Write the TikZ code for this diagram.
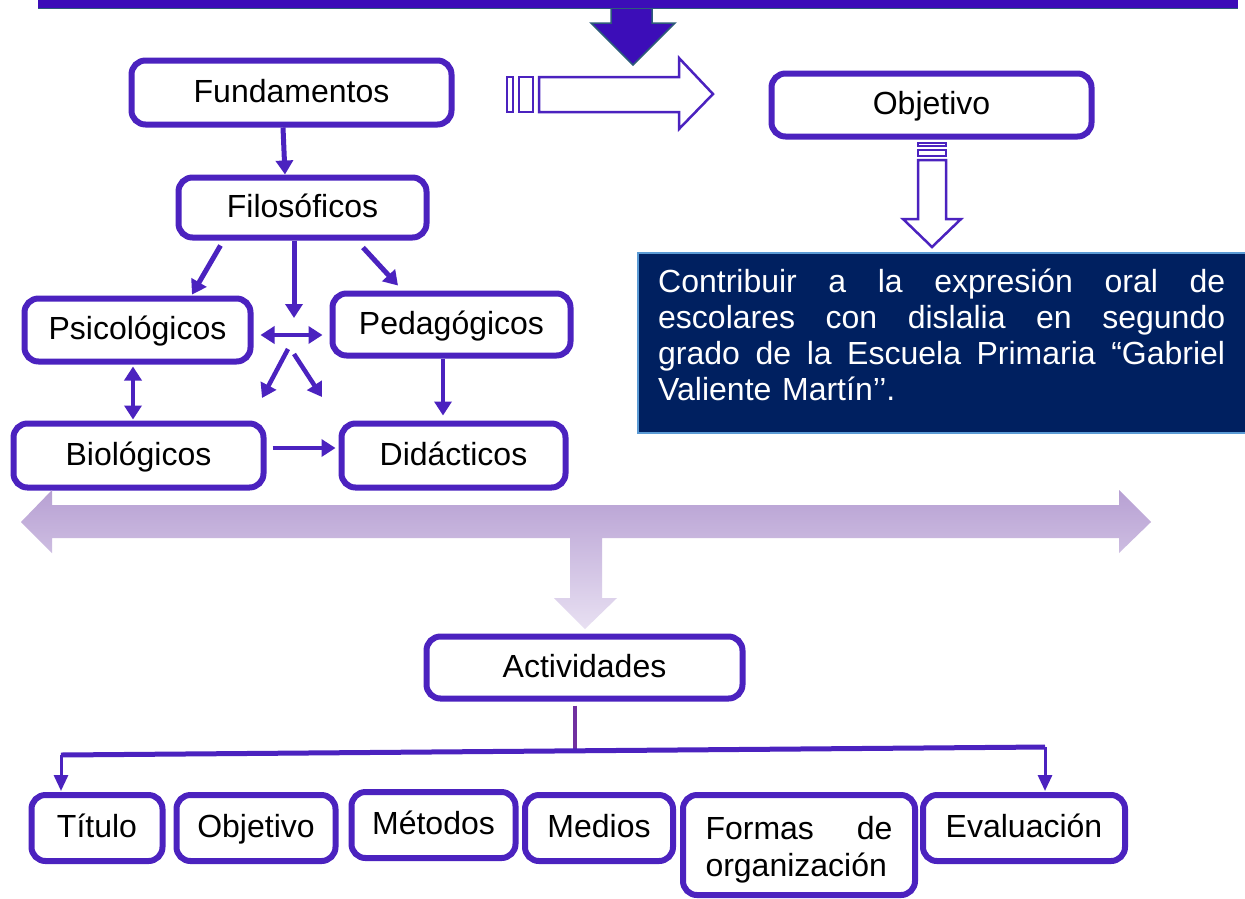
\documentclass[tikz,border=0pt]{standalone}
\usepackage{fontspec}
\setmainfont{Liberation Sans}
\usetikzlibrary{arrows.meta,calc}
\definecolor{bord}{HTML}{4B22BF}
\definecolor{bannerc}{HTML}{3C0DB8}
\definecolor{bteal}{HTML}{2E5C7A}
\definecolor{objnavy}{HTML}{002060}
\definecolor{edgeblue}{HTML}{5B9BD5}
\definecolor{lineviolet}{HTML}{7030A0}
\definecolor{lavtop}{HTML}{B7A0D3}
\definecolor{lavbot}{HTML}{E8E0F2}
\begin{document}
\begin{tikzpicture}[x=1pt,y=-1pt,
  box/.style={draw=bord, line width=6pt, rounded corners=14pt, fill=white, inner sep=0pt, text=black, font=\fontsize{32}{37}\selectfont},
  lbl/.style={box, text height=23pt, text depth=4pt},
  conn/.style={draw=bord, line width=5pt, -{Triangle[length=14pt,width=17pt]}},
  dconn/.style={draw=bord, line width=4pt, {Triangle[length=14pt,width=17pt]}-{Triangle[length=14pt,width=17pt]}},
  hollow/.style={draw=bord, line width=2.5pt, fill=white, line join=miter},
  thinarrow/.style={draw=bord, line width=3pt, -{Triangle[length=16pt,width=14pt]}}]
\useasboundingbox (0,0) rectangle (1245,898);
\fill[white] (0,0) rectangle (1245,898);

% top banner and arrow
\path[fill=bannerc, draw=bteal, line width=1.5pt] (611,0) -- (652,0) -- (652,23) -- (675,23) -- (633,65) -- (591,23) -- (611,23) -- cycle;
\fill[bannerc] (38,-5) rectangle (1238,8);
\draw[bteal, line width=1.5pt] (38,8.5) -- (1238,8.5);

% nodes
\node[lbl, minimum width=320pt, minimum height=64pt] (fund) at (291.5,92.5) {Fundamentos};
\node[lbl, minimum width=320pt, minimum height=63pt] (obj) at (931.5,105) {Objetivo};
\node[lbl, minimum width=248pt, minimum height=60pt] (filo) at (302.5,207.5) {Filosóficos};
\node[lbl, minimum width=226pt, minimum height=63pt] (psico) at (137.5,330) {Psicológicos};
\node[lbl, minimum width=238pt, minimum height=62pt] (peda) at (451.5,324.5) {Pedagógicos};
\node[lbl, minimum width=250pt, minimum height=64pt] (bio) at (138.5,455.5) {Biológicos};
\node[lbl, minimum width=224pt, minimum height=64pt] (dida) at (453.5,455.5) {Didácticos};
\node[lbl, minimum width=316pt, minimum height=62pt] (activ) at (584.5,667.5) {Actividades};

% bottom nodes
\node[lbl, minimum width=131pt, minimum height=66pt] (titulo) at (97,828) {Título};
\node[lbl, minimum width=159pt, minimum height=66pt] (objb) at (256,828) {Objetivo};
\node[lbl, minimum width=164pt, minimum height=66pt] (metodos) at (433.5,825) {Métodos};
\node[lbl, minimum width=148pt, minimum height=66pt] (medios) at (599,828) {Medios};
\node[box, minimum width=232pt, minimum height=100pt, text width=187pt, align=left] (formas) at (799,845) {\rule{0pt}{33pt}Formas\hfill de\\organización};
\node[lbl, minimum width=202pt, minimum height=66pt] (eval) at (1024,828) {Evaluación};

% objective text box
\node[draw=edgeblue, line width=1.5pt, fill=objnavy, minimum width=610pt, minimum height=180pt, anchor=north west, inner sep=0pt] (objbox) at (637,252) {};
\node[inner sep=0pt, text width=567pt, align=left, text=white, font=\fontsize{32}{36}\selectfont, anchor=north west] (objtext) at (658,269) {\makebox[567pt][l]{Contribuir\hfill a\hfill la\hfill expresión\hfill oral\hfill de}\\\makebox[567pt][l]{escolares\hfill con\hfill dislalia\hfill en\hfill segundo}\\\makebox[567pt][l]{grado\hfill de\hfill la\hfill Escuela\hfill Primaria\hfill “Gabriel}\\Valiente Martín’’.};

% striped right arrow (Fundamentos -> Objetivo)
\path[hollow] (507,77) rectangle (513,112);
\path[hollow] (519,77) rectangle (533,112);
\path[hollow] (539,77) -- (679,77) -- (679,58) -- (713,94) -- (679,129) -- (679,112) -- (539,112) -- cycle;

% striped down arrow (Objetivo -> text)
\path[hollow] (918,143) rectangle (946,146);
\path[hollow] (918,150) rectangle (946,156);
\path[hollow] (918,160) -- (946,160) -- (946,219) -- (961,219) -- (932,247) -- (903,219) -- (918,219) -- cycle;

% connectors
\draw[conn] ($(fund.south)+(-8.5,0)$) -- ($(filo.north)+(-17.5,0)$);
\draw[conn] ($(filo.south)+(-82,5)$) -- ($(psico.north)+(54.5,-1)$);
\coordinate (cmid) at (294,318);
\draw[conn] ($(filo.south)+(-8.5,0)$) -- (cmid);
\draw[conn] ($(filo.south)+(60.5,7)$) -- ($(peda.north)+(-53.5,-5)$);
\draw[dconn, line width=3.5pt] ($(psico.east)+(7,5)$) -- ($(peda.west)+(-7,10.5)$);
\coordinate (d1s) at (288,349);
\coordinate (d1e) at (262,398);
\coordinate (d2s) at (294,354);
\coordinate (d2e) at (322,397);
\draw[conn, line width=4.5pt] (d1s) -- (d1e);
\draw[conn, line width=4.5pt] (d2s) -- (d2e);
\draw[conn, line width=4.5pt] ($(peda.south)+(-8.5,0)$) -- ($(dida.north)+(-10.5,-5)$);
\draw[conn, line width=4.5pt] ($(bio.east)+(6,-7.5)$) -- ($(dida.west)+(-3,-7.5)$);
\draw[dconn, line width=4.5pt] ($(psico.south)+(-4.5,2)$) -- ($(bio.north)+(-5.5,-1)$);

% big lavender arrow
\shade[top color=lavtop, bottom color=lavbot] (21,522) -- (52,490) -- (52,505) -- (1119,505) -- (1119,490) -- (1151,522) -- (1119,553) -- (1119,538) -- (602,538) -- (602,598) -- (617,598) -- (585,629) -- (554,598) -- (570,598) -- (570,538) -- (52,538) -- (52,553) -- cycle;

% bottom connector
\coordinate (hl) at (61,755);
\coordinate (hr) at (1045,747);
\coordinate (hm) at (575,751);
\draw[lineviolet, line width=3.5pt] ($(activ.south)+(-9.5,4)$) -- (hm);
\draw[bord, line width=5pt] (hl) -- (hr);
\draw[thinarrow] (hl) -- ($(titulo.north)+(-36,-1)$);
\draw[thinarrow] (hr) -- ($(eval.north)+(21,-1)$);
\end{tikzpicture}
\end{document}
